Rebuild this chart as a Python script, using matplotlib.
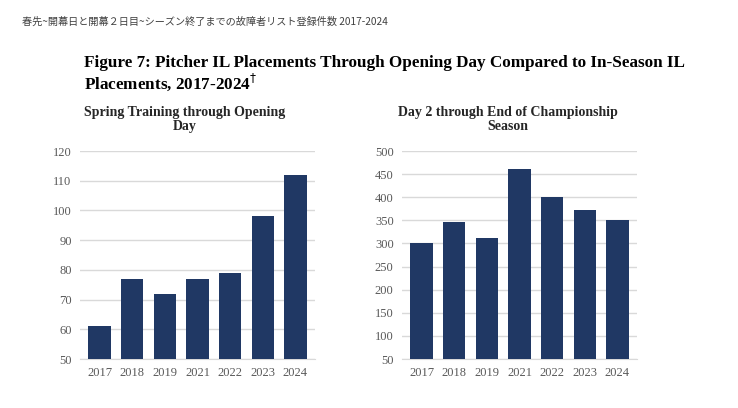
import matplotlib.pyplot as plt

years = ["2017", "2018", "2019", "2021", "2022", "2023", "2024"]
spring = [61, 77, 72, 77, 79, 98, 112]
in_season = [302, 346, 312, 462, 401, 372, 350]

bar_color = "#203864"
tick_color = "#595959"
grid_color = "#d9d9d9"
serif = ["Liberation Serif", "DejaVu Serif"]

fig = plt.figure(figsize=(7.38, 4.08), dpi=100)

# 上部の日本語見出し
fig.text(22 / 738, 1 - 22 / 408, "春先~開幕日と開幕２日目~シーズン終了までの故障者リスト登録件数 2017-2024",
         family=["Noto Sans CJK JP", "DejaVu Sans"], fontsize=7.3, color="#404040",
         ha="left", va="center")

fig.text(84 / 738, 1 - 63 / 408,
         "Figure 7: Pitcher IL Placements Through Opening Day Compared to In-Season IL",
         family=serif, fontweight="bold", fontsize=12.3, ha="left", va="center")
fig.text(84 / 738, 1 - 82 / 408, "Placements, 2017-2024$^{\\dagger}$",
         family=serif, fontweight="bold", fontsize=12.3, ha="left", va="center")


def draw(ax, values, ylim, step, title, title_x):
    x = range(len(years))
    ax.bar(x, values, width=0.68, color=bar_color, zorder=3)
    ax.set_ylim(*ylim)
    ax.set_yticks(range(ylim[0], ylim[1] + 1, step))
    ax.set_xticks(list(x))
    ax.set_xticklabels(years)
    ax.set_xlim(-0.6, len(years) - 0.4)
    ax.grid(axis="y", color=grid_color, linewidth=1, zorder=0)
    for s in ["top", "right", "left"]:
        ax.spines[s].set_visible(False)
    ax.spines["bottom"].set_color(grid_color)
    ax.tick_params(length=0, colors=tick_color, labelsize=9, pad=6)
    for lab in ax.get_xticklabels() + ax.get_yticklabels():
        lab.set_family(serif)
    fig.text(title_x / 738, 1 - 119 / 408, title, family=serif, fontweight="bold",
             fontsize=10, ha="center", va="center", linespacing=1.1, color="#262626")


ax1 = fig.add_axes([80 / 738, 1 - 359 / 408, 235 / 738, 208 / 408])
draw(ax1, spring, (50, 120), 10, "Spring Training through Opening\nDay", 185)

ax2 = fig.add_axes([402 / 738, 1 - 359 / 408, 235 / 738, 208 / 408])
draw(ax2, in_season, (50, 500), 50, "Day 2 through End of Championship\nSeason", 508)

fig.savefig("out.png", dpi=100)
